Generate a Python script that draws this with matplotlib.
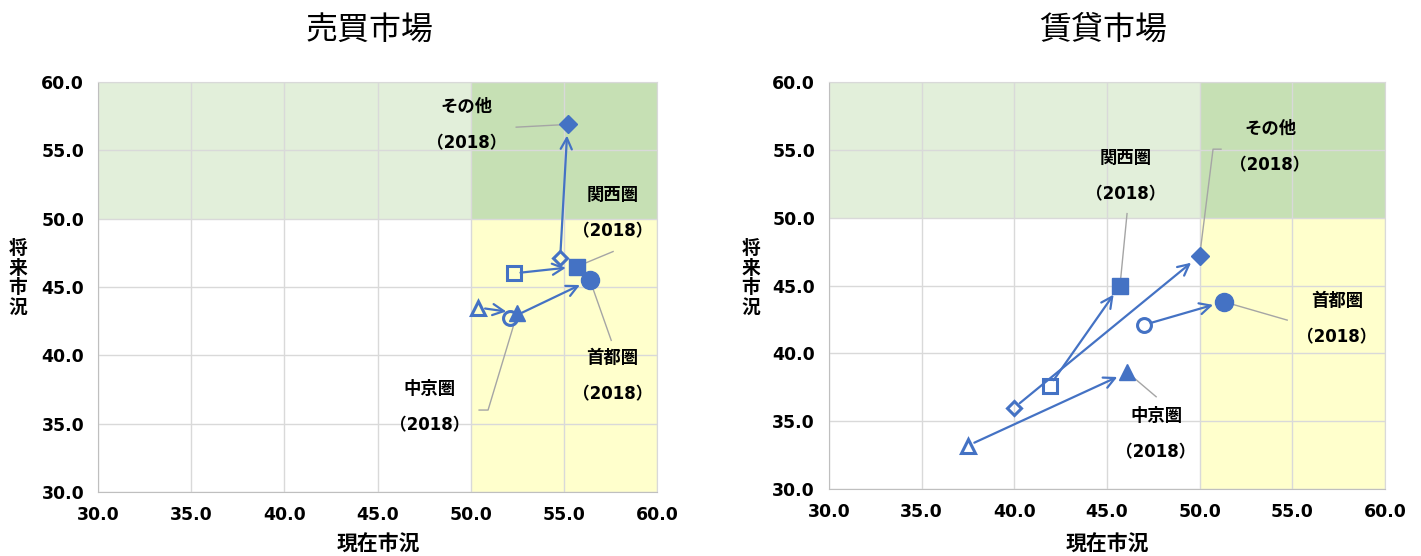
# Market condition scatter: current vs. future outlook by region (sales / rental)
import matplotlib
matplotlib.use("Agg")
import matplotlib.pyplot as plt

plt.rcParams['font.family'] = ['DejaVu Sans', 'Noto Sans CJK JP']

# === 0. Data ===
regions = ["首都圏", "関西圏", "中京圏", "その他"]
year_label = "（2018）"

# 売買市場: previous survey (hollow) -> 2018 (filled)
sales_prev_x = [52.1, 52.3, 50.4, 54.8]
sales_prev_y = [42.7, 46.0, 43.5, 47.1]
sales_now_x = [56.4, 55.7, 52.5, 55.2]
sales_now_y = [45.5, 46.5, 43.1, 56.9]

# 賃貸市場
rent_prev_x = [47.0, 41.9, 37.5, 40.0]
rent_prev_y = [42.1, 37.6, 33.2, 36.0]
rent_now_x = [51.3, 45.7, 46.1, 50.0]
rent_now_y = [43.8, 45.0, 38.6, 47.2]

# label centres and leader-line start points (with elbow where needed)
sales_label_x = [57.6, 57.6, 47.8, 49.8]
sales_label_y = [38.5, 50.4, 36.2, 56.85]
sales_leader = [[(57.54, 41.1)], [(57.64, 47.6)], [(50.45, 36.0), (50.93, 36.0)], [(52.44, 56.7)]]

rent_label_x = [57.4, 46.0, 47.65, 53.8]
rent_label_y = [42.5, 53.05, 34.05, 55.2]
rent_leader = [[(54.72, 42.45)], [(46.08, 50.3)], [(47.65, 36.8)], [(51.15, 55.05), (50.72, 55.05)]]

ticks = [30, 35, 40, 45, 50, 55, 60]

BLUE = "#4472C4"
markers = ["o", "s", "^", "D"]
filled_size = [13, 11.5, 12, 9]
hollow_size = [10, 10, 10, 7.5]


def draw_panel(ax, prev_x, prev_y, now_x, now_y, lab_x, lab_y, leaders):
    # quadrant shading
    ax.fill_between([30, 50], 50, 60, color="#E2EFDA", zorder=0.1, lw=0)
    ax.fill_between([50, 60], 50, 60, color="#C6E0B4", zorder=0.1, lw=0)
    ax.fill_between([50, 60], 30, 50, color="#FFFFCC", zorder=0.1, lw=0)

    for i in range(len(regions)):
        # arrow from previous survey to 2018
        ax.annotate("", xy=(now_x[i], now_y[i]), xytext=(prev_x[i], prev_y[i]),
                    arrowprops=dict(arrowstyle="->", color=BLUE, lw=1.6,
                                    mutation_scale=20, shrinkA=5, shrinkB=8),
                    zorder=3)
        ax.plot(prev_x[i], prev_y[i], marker=markers[i], ms=hollow_size[i],
                mfc="none", mec=BLUE, mew=2.2, ls="none", zorder=4)
        ax.plot(now_x[i], now_y[i], marker=markers[i], ms=filled_size[i],
                mfc=BLUE, mec=BLUE, ls="none", zorder=4)

        # leader line to the data label
        pts = leaders[i] + [(now_x[i], now_y[i])]
        ax.plot([p[0] for p in pts], [p[1] for p in pts], color="#A5A5A5",
                lw=1, zorder=3.5)
        ax.annotate(regions[i], xy=(lab_x[i], lab_y[i]), xytext=(0, 13),
                    textcoords="offset points", ha="center", va="center",
                    fontsize=12.5, fontweight="bold")
        ax.annotate(year_label, xy=(lab_x[i], lab_y[i]), xytext=(0, -13),
                    textcoords="offset points", ha="center", va="center",
                    fontsize=12, fontweight="bold")

    ax.set_xlim(30, 60)
    ax.set_ylim(30, 60)
    ax.set_xticks(ticks)
    ax.set_yticks(ticks)
    ax.set_xticklabels([f"{t:.1f}" for t in ticks], fontweight="bold", fontsize=12.5)
    ax.set_yticklabels([f"{t:.1f}" for t in ticks], fontweight="bold", fontsize=12.5)
    ax.tick_params(length=0, pad=10)
    ax.grid(True, color="#D9D9D9", lw=1)
    ax.set_axisbelow(True)
    for s in ax.spines.values():
        s.set_color("#D9D9D9")
    ax.spines["left"].set_color("#BFBFBF")
    ax.spines["bottom"].set_color("#BFBFBF")


# === 1. Figure and panels ===
fig = plt.figure(figsize=(14.21, 5.56), dpi=100)
ax1 = fig.add_axes([0.069, 0.115, 0.3934, 0.7374])
ax2 = fig.add_axes([0.5834, 0.1205, 0.3913, 0.732])

draw_panel(ax1, sales_prev_x, sales_prev_y, sales_now_x, sales_now_y,
           sales_label_x, sales_label_y, sales_leader)
draw_panel(ax2, rent_prev_x, rent_prev_y, rent_now_x, rent_now_y,
           rent_label_x, rent_label_y, rent_leader)

# === 2. Titles and axis labels ===
fig.text(370 / 1421, 1 - 30 / 556, "売買市場", ha="center", va="center", fontsize=23)
fig.text(1103 / 1421, 1 - 30 / 556, "賃貸市場", ha="center", va="center", fontsize=23)
for cx in (378, 1107):
    fig.text(cx / 1421, 1 - 545 / 556, "現在市況", ha="center", va="center",
             fontsize=15, fontweight="bold")
for cx in (18, 751):
    fig.text(cx / 1421, 1 - 278 / 556, "将\n来\n市\n況", ha="center", va="center",
             fontsize=13.5, fontweight="bold", linespacing=1.05)

fig.savefig("out.png", dpi=100)
